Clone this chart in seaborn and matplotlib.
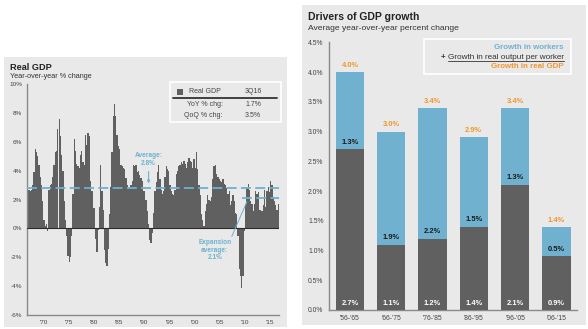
import numpy as np
import pandas as pd
import matplotlib
matplotlib.use("Agg")
import matplotlib.pyplot as plt
import seaborn as sns
from matplotlib.patches import Rectangle
from matplotlib.lines import Line2D

# ---------------------------------------------------------------------------
# Real GDP, year-over-year % change, quarterly (first bar is 1966 Q4)
first_quarter = "1966Q4"
gdp_yoy = [
    4.5,                     # 1966 Q4
    2.7, 2.6, 2.7, 3.0,      # 1967
    3.9, 5.5, 5.3, 5.0,      # 1968
    4.4, 3.6, 3.0, 1.9,      # 1969
    0.6, 0.2, 0.3, -0.2,     # 1970
    2.7, 3.0, 3.1, 3.6,      # 1971
    4.4, 5.3, 5.4, 6.9,      # 1972
    7.6, 6.4, 5.1, 4.0,      # 1973
    1.9, 0.6, -0.5, -1.9,    # 1974
    -2.3, -2.0, -0.5, 2.4,   # 1975
    6.2, 5.4, 4.5, 4.3,      # 1976
    4.2, 5.1, 5.4, 4.6,      # 1977
    4.4, 6.5, 5.8, 6.6,      # 1978
    6.4, 3.3, 2.6, 1.4,      # 1979
    1.4, -0.7, -1.6, -0.1,   # 1980
    1.5, 4.4, 2.6, 1.3,      # 1981
    -1.5, -2.4, -2.6, -1.4,  # 1982
    1.0, 2.9, 5.3, 7.8,      # 1983
    8.6, 7.8, 6.5, 5.7,      # 1984
    5.5, 4.4, 4.3, 4.2,      # 1985
    4.1, 3.5, 3.0, 2.8,      # 1986
    2.8, 3.0, 3.3, 4.4,      # 1987
    4.3, 4.4, 3.9, 4.0,      # 1988
    3.7, 3.5, 3.3, 2.6,      # 1989
    2.6, 2.0, 1.2, 0.3,      # 1990
    -0.8, -1.0, -0.3, 1.1,   # 1991
    2.6, 3.2, 3.9, 4.4,      # 1992
    3.4, 2.7, 2.4, 2.6,      # 1993
    3.6, 4.3, 4.1, 4.0,      # 1994
    3.0, 2.6, 2.4, 2.3,      # 1995
    2.7, 3.8, 4.0, 4.3,      # 1996
    4.4, 4.6, 4.5, 4.7,      # 1997
    4.5, 4.2, 4.6, 4.9,      # 1998
    4.7, 4.6, 4.2, 4.8,      # 1999
    4.2, 5.3, 4.1, 3.0,      # 2000
    2.3, 1.0, 0.6, 0.2,      # 2001
    1.2, 1.7, 2.3, 2.0,      # 2002
    1.9, 2.2, 3.4, 4.3,      # 2003
    4.4, 3.8, 3.6, 3.4,      # 2004
    3.3, 3.2, 3.4, 3.1,      # 2005
    3.0, 2.8, 2.4, 2.6,      # 2006
    1.6, 1.9, 2.3, 1.9,      # 2007
    1.1, 1.0, -0.5, -2.8,    # 2008
    -3.3, -4.1, -3.3, -0.2,  # 2009
    1.7, 2.8, 3.1, 2.7,      # 2010
    1.9, 1.7, 1.2, 1.7,      # 2011
    2.6, 2.4, 2.5, 1.3,      # 2012
    1.3, 1.2, 1.6, 2.7,      # 2013
    1.5, 2.6, 2.9, 2.5,      # 2014
    3.3, 3.0, 2.2, 1.9,      # 2015
    1.6, 1.3, 1.7,           # 2016
]
long_run_avg = 2.8
expansion_avg = 2.1
expansion_start = "2009Q3"
tick_years = [1970, 1975, 1980, 1985, 1990, 1995, 2000, 2005, 2010, 2015]
tick_year_labels = ["'70", "'75", "'80", "'85", "'90", "'95", "'00", "'05", "'10", "'15"]
gdp_yticks = [-6, -4, -2, 0, 2, 4, 6, 8, 10]

table_period = "3Q16"
table_labels = ["YoY % chg:", "QoQ % chg:"]
table_values = ["1.7%", "3.5%"]

# Drivers of GDP growth, average yoy % change by decade
decades = ["'56-'65", "'66-'75", "'76-'85", "'86-'95", "'96-'05", "'06-'15"]
output_per_worker = [2.7, 1.1, 1.2, 1.4, 2.1, 0.9]
growth_in_workers = [1.3, 1.9, 2.2, 1.5, 1.3, 0.5]
driver_yticks = [0.0, 0.5, 1.0, 1.5, 2.0, 2.5, 3.0, 3.5, 4.0, 4.5]

# ---------------------------------------------------------------------------
sns.set_style("white")
plt.rcParams["font.family"] = ["Liberation Sans", "DejaVu Sans"]

PANEL = "#e9e9e9"
BAR_GRAY = "#606060"
BLUE = "#6fb1ce"
AVG_BLUE = "#6cb2d0"
ORANGE = "#f1962c"
TEXT = "#444444"
SPINE = "#8a8a8a"

W, H = 588, 329
fig = plt.figure(figsize=(W / 100, H / 100), dpi=100)
fig.patch.set_facecolor("white")


def fx(px):
    return px / W


def fy(py):
    return 1 - py / H


def panel(x0, y0, x1, y1):
    fig.add_artist(Rectangle((fx(x0), fy(y1)), fx(x1) - fx(x0), fy(y0) - fy(y1),
                             transform=fig.transFigure, facecolor=PANEL,
                             edgecolor="none", zorder=-5))


def box(x0, y0, x1, y1):
    fig.add_artist(Rectangle((fx(x0), fy(y1)), fx(x1) - fx(x0), fy(y0) - fy(y1),
                             transform=fig.transFigure, facecolor="none",
                             edgecolor="white", lw=1.2, zorder=5))


panel(4, 57, 287, 327)
panel(302, 5, 586, 325)

# ---------------------------------------------------------------- Real GDP
fig.text(fx(10), fy(70), "Real GDP", fontsize=6.6, weight="bold", color="#222222")
fig.text(fx(10), fy(78.5), "Year-over-year % change", fontsize=5.2, color="#333333")

axL = fig.add_axes([fx(27), fy(315), fx(279) - fx(27), fy(84.3) - fy(315)])
axL.set_facecolor("none")

quarters = pd.period_range(first_quarter, periods=len(gdp_yoy), freq="Q")
gdp = pd.DataFrame({"quarter": quarters.astype(str), "yoy": gdp_yoy})
sns.barplot(data=gdp, x="quarter", y="yoy", color=BAR_GRAY, saturation=1,
            width=1.0, linewidth=0, errorbar=None, ax=axL, zorder=2)

n = len(gdp_yoy)
axL.set_xlim(-0.5, n - 0.5)
axL.set_ylim(-6, 10)
q_index = {str(q): i for i, q in enumerate(quarters)}
axL.set_xticks([q_index[f"{y}Q1"] - 0.5 for y in tick_years])
axL.set_xticklabels(tick_year_labels)
axL.set_yticks(gdp_yticks)
axL.set_yticklabels([f"{v}%" for v in gdp_yticks])
axL.set_xlabel("")
axL.set_ylabel("")
axL.tick_params(axis="both", labelsize=4.6, labelcolor=TEXT, length=2,
                width=0.6, color=SPINE, pad=1.4)
for s in ("top", "right"):
    axL.spines[s].set_visible(False)
for s in ("left", "bottom"):
    axL.spines[s].set_color(SPINE)
    axL.spines[s].set_linewidth(1.0)
axL.axhline(0, color="#2b2b2b", lw=0.8, zorder=3)

# average lines
axL.axhline(long_run_avg, color=AVG_BLUE, lw=1.3, ls=(0, (5.5, 2.4)), zorder=4)
exp_i = q_index[expansion_start] - 0.5
axL.hlines(expansion_avg, exp_i, n - 0.5, color=AVG_BLUE, lw=1.3,
           ls=(0, (5.5, 2.4)), zorder=4)

avg_i = q_index["1990Q4"]
axL.text(avg_i, 4.78, f"Average:\n{long_run_avg}%", ha="center", va="center",
         fontsize=4.7, color=AVG_BLUE, weight="bold", linespacing=1.05, zorder=5)
axL.annotate("", xy=(avg_i, 3.12), xytext=(avg_i, 3.95),
             arrowprops=dict(arrowstyle="-|>", color=AVG_BLUE, lw=0.8,
                             mutation_scale=4, shrinkA=0, shrinkB=0), zorder=5)

axL.text(q_index["2004Q1"] - 0.5, -1.5, f"Expansion\naverage:\n{expansion_avg}%",
         ha="center", va="center", fontsize=4.7, color=AVG_BLUE, weight="bold",
         linespacing=1.05, zorder=5)
axL.annotate("", xy=(q_index["2010Q2"], 1.85), xytext=(q_index["2007Q2"], -0.55),
             arrowprops=dict(arrowstyle="-", color=AVG_BLUE, lw=0.7,
                             shrinkA=0, shrinkB=0), zorder=5)

# summary table
box(170, 82, 281, 122)
fig.add_artist(Rectangle((fx(177), fy(94.7)), fx(6), fy(88.7) - fy(94.7),
                         transform=fig.transFigure, facecolor=BAR_GRAY,
                         edgecolor="none", zorder=6))
fig.text(fx(189), fy(91.7), "Real GDP", fontsize=5.0, color=TEXT, va="center")
fig.text(fx(253), fy(91.7), table_period, fontsize=5.0, color=TEXT,
         va="center", ha="center")
fig.add_artist(Line2D([fx(173), fx(277)], [fy(98.3), fy(98.3)],
                      transform=fig.transFigure, color="#333333", lw=1.3, zorder=6))
for row_y, lab, val in zip([104.5, 115.7], table_labels, table_values):
    fig.text(fx(222.7), fy(row_y), lab, fontsize=5.0, color=TEXT, va="center",
             ha="right")
    fig.text(fx(253), fy(row_y), val, fontsize=5.0, color=TEXT, va="center",
             ha="center")

# ---------------------------------------------------- Drivers of GDP growth
fig.text(fx(308), fy(19.5), "Drivers of GDP growth", fontsize=7.5, weight="bold",
         color="#222222")
fig.text(fx(308), fy(30), "Average year-over-year percent change", fontsize=6.1,
         color="#333333")

axR = fig.add_axes([fx(329.3), fy(310), fx(577) - fx(329.3), fy(42.3) - fy(310)])
axR.set_facecolor("none")

drivers = pd.DataFrame({
    "decade": decades,
    "output": output_per_worker,
    "workers": growth_in_workers,
})
drivers["gdp"] = drivers["output"] + drivers["workers"]

sns.barplot(data=drivers, x="decade", y="gdp", color=BLUE, saturation=1,
            width=0.69, linewidth=0, errorbar=None, ax=axR, zorder=2)
sns.barplot(data=drivers, x="decade", y="output", color=BAR_GRAY, saturation=1,
            width=0.69, linewidth=0, errorbar=None, ax=axR, zorder=3)

axR.set_xlim(-0.5, len(decades) - 0.5)
axR.set_ylim(0, 4.5)
axR.set_yticks(driver_yticks)
axR.set_yticklabels([f"{v:.1f}%" for v in driver_yticks])
axR.set_xlabel("")
axR.set_ylabel("")
axR.tick_params(axis="both", labelsize=4.9, labelcolor=TEXT, length=2,
                width=0.6, color=SPINE, pad=2.2)
axR.tick_params(axis="x", length=0, pad=3.5)
axR.set_xticks(np.arange(len(decades)) - 0.5, minor=True)
axR.tick_params(axis="x", which="minor", length=2, width=0.6, color=SPINE)
for s in ("top", "right"):
    axR.spines[s].set_visible(False)
for s in ("left", "bottom"):
    axR.spines[s].set_color(SPINE)
    axR.spines[s].set_linewidth(1.0)

for i, row in drivers.iterrows():
    axR.text(i, 0.11, f"{row['output']:.1f}%", ha="center", va="center",
             fontsize=5.4, color="white", weight="bold", zorder=6)
    axR.text(i, row["output"] + 0.12, f"{row['workers']:.1f}%", ha="center",
             va="center", fontsize=5.4, color="#1b1b1b", weight="bold", zorder=6)
    axR.text(i, row["gdp"] + 0.11, f"{row['gdp']:.1f}%", ha="center",
             va="center", fontsize=5.4, color=ORANGE, weight="bold", zorder=6)

# legend block
box(424, 39, 571, 74)
fig.text(fx(564), fy(47.3), "Growth in workers", fontsize=5.7, weight="bold",
         color=BLUE, ha="right", va="center")
mid = fig.text(fx(564), fy(57.3), "Growth in real output per worker", fontsize=5.9,
               color="#333333", ha="right", va="center")
fig.text(fx(564), fy(66.7), "Growth in real GDP", fontsize=5.7, weight="bold",
         color=ORANGE, ha="right", va="center")

fig.canvas.draw()
bb = mid.get_window_extent(fig.canvas.get_renderer())
x0_px, x1_px = bb.x0, bb.x1
fig.add_artist(Line2D([x0_px / W, x1_px / W], [fy(61.2), fy(61.2)],
                      transform=fig.transFigure, color="#333333", lw=0.6, zorder=6))
fig.text((x0_px - 2.5) / W, fy(57.3), "+", fontsize=5.9, weight="bold",
         color="#333333", ha="right", va="center")

fig.savefig("out.png", dpi=100, facecolor="white")
